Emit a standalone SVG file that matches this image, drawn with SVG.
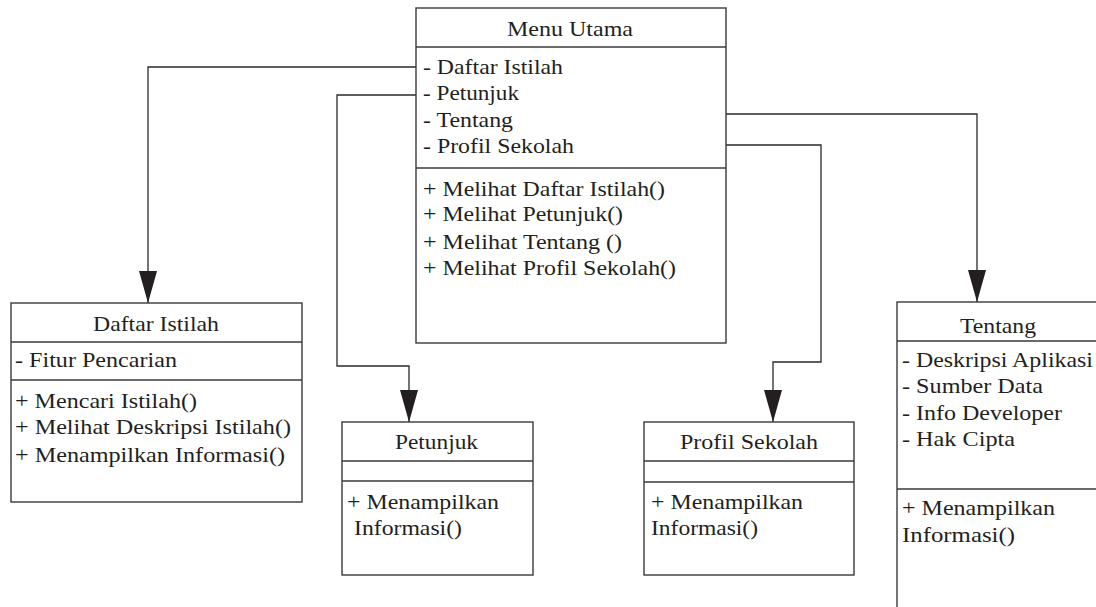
<svg xmlns="http://www.w3.org/2000/svg" width="1096" height="607" viewBox="0 0 1096 607">
  <style>
    .box { fill: #ffffff; stroke: #3a3a3a; stroke-width: 1.4; }
    .sep { stroke: #3a3a3a; stroke-width: 1.4; }
    .conn { fill: none; stroke: #2a2a2a; stroke-width: 1.3; }
    .t text { font-family: 'Liberation Serif', 'Times New Roman', serif; font-size: 22px; fill: #231f20; }
  </style>
  <defs>
    <marker id="arrow" viewBox="0 0 32 18" refX="32" refY="9" markerWidth="32" markerHeight="18" markerUnits="userSpaceOnUse" orient="auto">
      <path d="M0,0 L32,9 L0,18 Z" fill="#231f20"/>
    </marker>
  </defs>
  <rect width="1096" height="607" fill="#ffffff"/>

  <g id="connectors">
    <path class="conn" d="M416,67 H148 V303" marker-end="url(#arrow)"/>
    <path class="conn" d="M416,95 H337 V366 H409 V422" marker-end="url(#arrow)"/>
    <path class="conn" d="M726,114 H977 V302" marker-end="url(#arrow)"/>
    <path class="conn" d="M726,145 H821 V362 H773 V422" marker-end="url(#arrow)"/>
  </g>

  <g id="menu-utama" class="t">
    <rect class="box" x="416" y="8" width="310" height="335"/>
    <line class="sep" x1="416" y1="47" x2="726" y2="47"/>
    <line class="sep" x1="416" y1="168" x2="726" y2="168"/>
    <text x="507" y="36" textLength="126" lengthAdjust="spacingAndGlyphs">Menu Utama</text>
    <text x="423" y="74" textLength="140" lengthAdjust="spacingAndGlyphs">- Daftar Istilah</text>
    <text x="423" y="100" textLength="96" lengthAdjust="spacingAndGlyphs">- Petunjuk</text>
    <text x="423" y="127" textLength="90" lengthAdjust="spacingAndGlyphs">- Tentang</text>
    <text x="423" y="153" textLength="151" lengthAdjust="spacingAndGlyphs">- Profil Sekolah</text>
    <text x="423" y="196" textLength="242" lengthAdjust="spacingAndGlyphs">+ Melihat Daftar Istilah()</text>
    <text x="423" y="221" textLength="200" lengthAdjust="spacingAndGlyphs">+ Melihat Petunjuk()</text>
    <text x="423" y="249" textLength="199" lengthAdjust="spacingAndGlyphs">+ Melihat Tentang ()</text>
    <text x="423" y="275" textLength="253" lengthAdjust="spacingAndGlyphs">+ Melihat Profil Sekolah()</text>
  </g>

  <g id="daftar-istilah" class="t">
    <rect class="box" x="11" y="303" width="291" height="199"/>
    <line class="sep" x1="11" y1="342" x2="302" y2="342"/>
    <line class="sep" x1="11" y1="380" x2="302" y2="380"/>
    <text x="93" y="331" textLength="126" lengthAdjust="spacingAndGlyphs">Daftar Istilah</text>
    <text x="15" y="367" textLength="162" lengthAdjust="spacingAndGlyphs">- Fitur Pencarian</text>
    <text x="15" y="408" textLength="182" lengthAdjust="spacingAndGlyphs">+ Mencari Istilah()</text>
    <text x="15" y="434" textLength="276" lengthAdjust="spacingAndGlyphs">+ Melihat Deskripsi Istilah()</text>
    <text x="15" y="462" textLength="270" lengthAdjust="spacingAndGlyphs">+ Menampilkan Informasi()</text>
  </g>

  <g id="petunjuk" class="t">
    <rect class="box" x="342" y="422" width="191" height="153"/>
    <line class="sep" x1="342" y1="461" x2="533" y2="461"/>
    <line class="sep" x1="342" y1="481" x2="533" y2="481"/>
    <text x="395" y="449" textLength="83" lengthAdjust="spacingAndGlyphs">Petunjuk</text>
    <text x="347" y="509" textLength="152" lengthAdjust="spacingAndGlyphs">+ Menampilkan</text>
    <text x="354" y="535" textLength="108" lengthAdjust="spacingAndGlyphs">Informasi()</text>
  </g>

  <g id="profil-sekolah" class="t">
    <rect class="box" x="644" y="422" width="210" height="153"/>
    <line class="sep" x1="644" y1="461" x2="854" y2="461"/>
    <line class="sep" x1="644" y1="482" x2="854" y2="482"/>
    <text x="680" y="449" textLength="138" lengthAdjust="spacingAndGlyphs">Profil Sekolah</text>
    <text x="651" y="509" textLength="152" lengthAdjust="spacingAndGlyphs">+ Menampilkan</text>
    <text x="651" y="535" textLength="107" lengthAdjust="spacingAndGlyphs">Informasi()</text>
  </g>

  <g id="tentang" class="t">
    <rect class="box" x="897" y="302" width="230" height="330"/>
    <line class="sep" x1="897" y1="341" x2="1127" y2="341"/>
    <line class="sep" x1="897" y1="489" x2="1127" y2="489"/>
    <text x="960" y="333" textLength="76" lengthAdjust="spacingAndGlyphs">Tentang</text>
    <text x="902" y="367" textLength="191" lengthAdjust="spacingAndGlyphs">- Deskripsi Aplikasi</text>
    <text x="902" y="393" textLength="141" lengthAdjust="spacingAndGlyphs">- Sumber Data</text>
    <text x="902" y="420" textLength="160" lengthAdjust="spacingAndGlyphs">- Info Developer</text>
    <text x="902" y="446" textLength="113" lengthAdjust="spacingAndGlyphs">- Hak Cipta</text>
    <text x="902" y="515" textLength="153" lengthAdjust="spacingAndGlyphs">+ Menampilkan</text>
    <text x="902" y="542" textLength="113" lengthAdjust="spacingAndGlyphs">Informasi()</text>
  </g>
</svg>
